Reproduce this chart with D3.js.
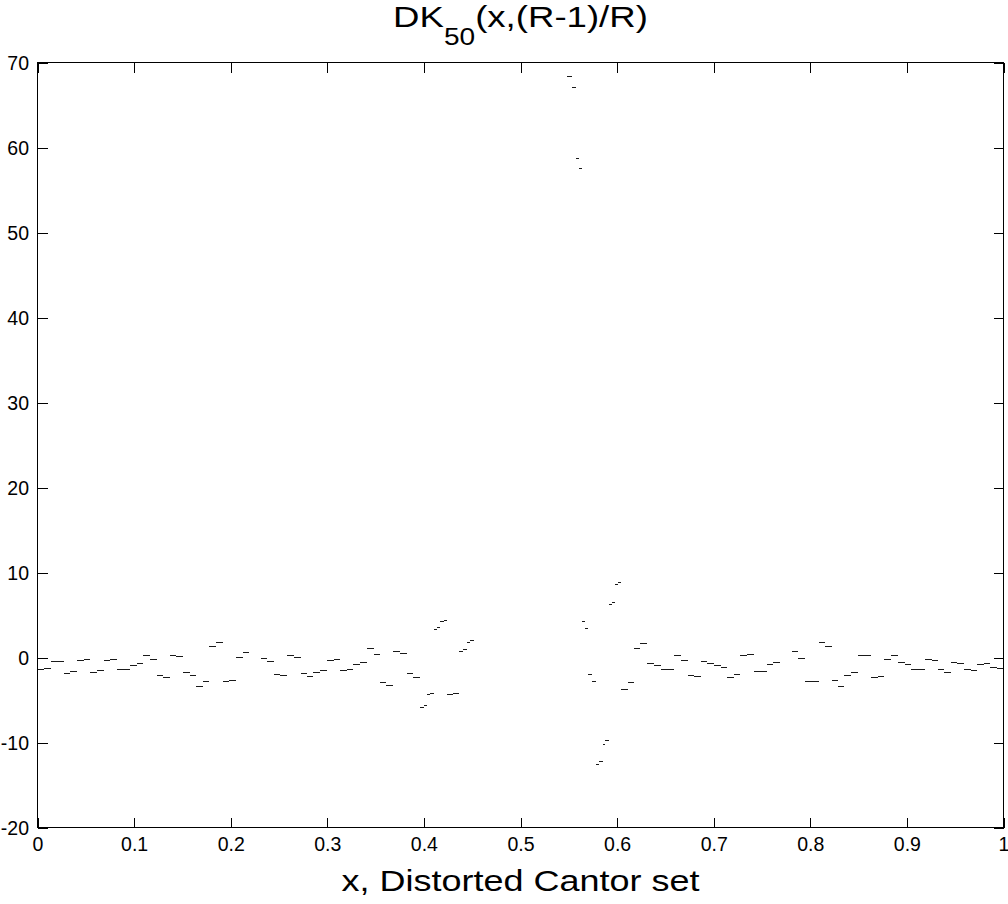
<!DOCTYPE html>
<html>
<head>
<meta charset="utf-8">
<script src="https://cdn.jsdelivr.net/npm/d3@7"></script>
<style>
  html, body { margin: 0; padding: 0; background: #fff; }
  svg { display: block; }
  text { font-family: "Liberation Sans", Arial, Helvetica, sans-serif; fill: #000; }
</style>
</head>
<body>
<svg id="chart" width="1008" height="904"></svg>
<script>
// ---- data ----
const segEdges = [
  0, 0.00694, 0.01366, 0.02743, 0.03416, 0.04110, 0.04762, 0.05476, 0.06159, 0.06853,
  0.07536, 0.08219, 0.09586, 0.10269, 0.10963, 0.11646, 0.12329, 0.13012, 0.13696, 0.14389,
  0.15072, 0.15756, 0.16439, 0.17122, 0.17805, 0.18489, 0.19172, 0.19855, 0.20538, 0.21222,
  0.21894, 0.23085, 0.23778, 0.24462, 0.25155, 0.25849, 0.26532, 0.27226, 0.27899, 0.28571,
  0.29265, 0.29948, 0.30642, 0.31335, 0.32019, 0.32712, 0.33385, 0.34058, 0.34783, 0.35455,
  0.36128, 0.36822, 0.37526, 0.38230, 0.38923, 0.39545, 0.39959, 0.40321, 0.40683, 0.40994,
  0.41356, 0.41718, 0.42029, 0.42340, 0.42961, 0.43613, 0.43996, 0.44410, 0.44772, 0.45135,
  0.54865, 0.55280, 0.55694, 0.56035, 0.56366, 0.56677, 0.57039, 0.57381, 0.57764, 0.58126,
  0.58489, 0.58799, 0.59141, 0.59451, 0.59783, 0.60093, 0.60455, 0.61077, 0.61729, 0.62422,
  0.63116, 0.63799, 0.64493, 0.65942, 0.66636, 0.67319, 0.68012, 0.68706, 0.69358, 0.70010,
  0.70704, 0.71398, 0.72081, 0.72774, 0.73468, 0.74151, 0.75538, 0.76190, 0.76843, 0.78106,
  0.78778, 0.79503, 0.80176, 0.80849, 0.81522, 0.82195, 0.82867, 0.83540, 0.84213, 0.84917,
  0.85611, 0.86304, 0.86988, 0.87681, 0.88354, 0.89058, 0.89752, 0.90445, 0.91822, 0.92547,
  0.93199, 0.93892, 0.94586, 0.95238, 0.95890, 0.96584, 0.97277, 0.97930, 0.98623, 0.99306,
  1
];
const segValues = [
  -1.41, -1.21, -0.47, -1.80, -1.61, -0.35, -0.20, -1.65, -1.45, -0.35,
  -0.20, -1.33, -0.86, -0.62, 0.32, -0.15, -2.04, -2.32, 0.35, 0.12,
  -1.65, -2.00, -3.41, -2.82, 1.41, 1.82, -2.82, -2.62, 0.04, 0.59,
  null, -0.04, -0.41, -1.92, -2.04, 0.32, 0.08, -1.88, -2.12, -1.71,
  -1.47, -0.27, -0.15, -1.45, -1.33, -0.74, -0.55, 1.14, 0.44, -2.91,
  -3.29, 0.76, 0.55, -1.85, -2.35, -5.85, -5.56, -4.35, -4.15, 3.41,
  3.59, 4.29, 4.43, -4.27, -4.12, 0.82, 0.98, 1.88, 2.08, null,
  68.39, 67.06, 58.79, 57.61, 4.27, 3.45, -1.92, -2.71, -12.51, -12.12,
  -10.15, -9.76, 6.24, 6.51, 8.59, 8.86, -3.68, -2.94, 1.14, 1.68,
  -0.59, -0.86, -1.33, 0.24, -0.27, -2.00, -2.15, -0.47, -0.62, -0.86,
  -1.06, -2.27, -1.92, 0.32, 0.44, -1.56, -0.74, -0.51, null, 0.71,
  -0.04, -2.74, -2.82, 1.85, 1.41, -2.62, -3.41, -2.00, -1.65, 0.32,
  0.35, -2.32, -2.15, -0.20, 0.32, -0.51, -0.74, -1.41, -0.20, -0.27,
  -1.41, -1.65, -0.51, -0.62, -1.41, -1.49, -0.71, -0.62, -1.06, -1.21
];
const xTicks = [0, 0.1, 0.2, 0.3, 0.4, 0.5, 0.6, 0.7, 0.8, 0.9, 1];
const xTickLabels = ["0", "0.1", "0.2", "0.3", "0.4", "0.5", "0.6", "0.7", "0.8", "0.9", "1"];
const yTicks = [-20, -10, 0, 10, 20, 30, 40, 50, 60, 70];
const yTickLabels = ["-20", "-10", "0", "10", "20", "30", "40", "50", "60", "70"];
const titleMain = "DK", titleSub = "50", titleRest = "(x,(R-1)/R)";
const xLabel = "x, Distorted Cantor set";

// ---- layout ----
const SX = 1.22;           // horizontal stretch of title / axis label in the reference
const TICK = 10;
const svg = d3.select("#chart");
const x = d3.scaleLinear().domain([0, 1]).range([37.5, 1003.5]);
const y = d3.scaleLinear().domain([-20, 70]).range([827.5, 62.5]);

// data segments
const segs = segValues.map((v, i) => ({ x0: segEdges[i], x1: segEdges[i + 1], v }))
  .filter(d => d.v !== null);
svg.append("g").attr("shape-rendering", "crispEdges")
  .selectAll("line").data(segs).join("line")
  .attr("x1", d => x(d.x0)).attr("x2", d => x(d.x1))
  .attr("y1", d => Math.round(y(d.v)) + 0.5).attr("y2", d => Math.round(y(d.v)) + 0.5)
  .attr("stroke", "#1a1a1a").attr("stroke-width", 1);

// axes
const fmtX = d => xTickLabels[xTicks.indexOf(d)];
const fmtY = d => yTickLabels[yTicks.indexOf(d)];

const gB = svg.append("g").attr("transform", `translate(0,${y(-20)})`)
  .call(d3.axisBottom(x).tickValues(xTicks).tickFormat(fmtX).tickSizeInner(-TICK).tickSizeOuter(0).tickPadding(10));
const gT = svg.append("g").attr("transform", `translate(0,${y(70)})`)
  .call(d3.axisTop(x).tickValues(xTicks).tickFormat("").tickSizeInner(-TICK).tickSizeOuter(0));
const gL = svg.append("g").attr("transform", `translate(${x(0)},0)`)
  .call(d3.axisLeft(y).tickValues(yTicks).tickFormat(fmtY).tickSizeInner(-TICK).tickSizeOuter(0).tickPadding(8.5));
const gR = svg.append("g").attr("transform", `translate(${x(1)},0)`)
  .call(d3.axisRight(y).tickValues(yTicks).tickFormat("").tickSizeInner(-TICK).tickSizeOuter(0));

[gB, gT, gL, gR].forEach(g => {
  g.select(".domain").remove();
  g.selectAll("line").attr("stroke", "#000").attr("shape-rendering", "crispEdges");
  g.selectAll("text").attr("font-size", 19.5).attr("fill", "#000")
    .attr("font-family", "'Liberation Sans', Arial, sans-serif");
});
gL.selectAll("text").attr("dy", "0.38em");

// box
svg.append("rect")
  .attr("x", x(0)).attr("y", y(70))
  .attr("width", x(1) - x(0)).attr("height", y(-20) - y(70))
  .attr("fill", "none").attr("stroke", "#000").attr("stroke-width", 1)
  .attr("shape-rendering", "crispEdges");

// title
const cx = (x(0) + x(1)) / 2;
const title = svg.append("text")
  .attr("transform", `translate(${cx},27) scale(${SX},1)`)
  .attr("text-anchor", "middle").attr("font-size", 30);
title.append("tspan").text(titleMain);
title.append("tspan").attr("font-size", 23).attr("dy", 18).text(titleSub);
title.append("tspan").attr("dy", -18).text(titleRest);

// x label
svg.append("text")
  .attr("transform", `translate(${cx},891) scale(${SX},1)`)
  .attr("text-anchor", "middle").attr("font-size", 29.5)
  .text(xLabel);
</script>
</body>
</html>
